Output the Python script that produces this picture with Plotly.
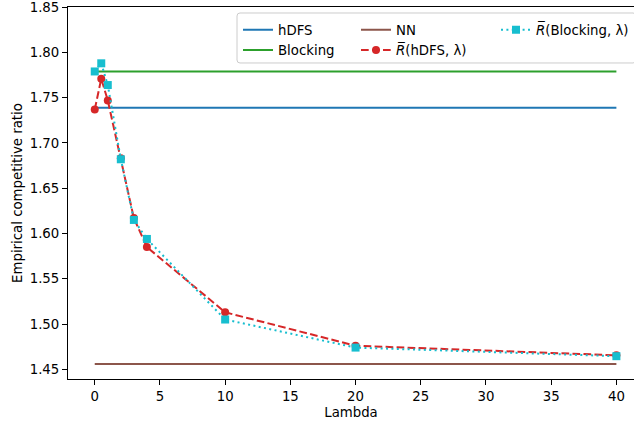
import plotly.graph_objects as go
import re

lambdas = [0, 0.5, 1, 2, 3, 4, 10, 20, 40]
r_hdfs = [1.737, 1.771, 1.747, 1.683, 1.617, 1.585, 1.513, 1.476, 1.4655]
r_blocking = [1.779, 1.788, 1.764, 1.682, 1.615, 1.594, 1.505, 1.474, 1.4645]
hdfs_value = 1.739
blocking_value = 1.779
nn_value = 1.456
x_ticks = [0, 5, 10, 15, 20, 25, 30, 35, 40]
y_ticks = [1.45, 1.50, 1.55, 1.60, 1.65, 1.70, 1.75, 1.80, 1.85]

FONT = "DejaVu Sans"
FS = 13.3
LW = 2.0

x_ends = [lambdas[0], lambdas[-1]]

fig = go.Figure()
fig.add_trace(go.Scatter(x=x_ends, y=[hdfs_value] * 2, mode="lines", name="hDFS",
                         line=dict(color="#1f77b4", width=LW), legend="legend"))
fig.add_trace(go.Scatter(x=x_ends, y=[blocking_value] * 2, mode="lines", name="Blocking",
                         line=dict(color="#2ca02c", width=LW), legend="legend"))
fig.add_trace(go.Scatter(x=x_ends, y=[nn_value] * 2, mode="lines", name="NN",
                         line=dict(color="#8c564b", width=LW), legend="legend2"))
fig.add_trace(go.Scatter(x=lambdas, y=r_hdfs, mode="lines+markers",
                         name="<i>R̅</i>(hDFS, λ)",
                         line=dict(color="#d62728", width=LW, dash="7.7px,3.3px"),
                         marker=dict(symbol="circle", size=8, color="#d62728"),
                         legend="legend2"))
fig.add_trace(go.Scatter(x=lambdas, y=r_blocking, mode="lines+markers",
                         name="<i>R̅</i>(Blocking, λ)",
                         line=dict(color="#17becf", width=LW, dash="2px,3.4px"),
                         marker=dict(symbol="square", size=8, color="#17becf"),
                         legend="legend3"))

L, R, T, B = 68, 0, 6.5, 44.3
W, H = 634, 423
pw = W - L - R
ph = H - T - B

def px(xp):
    return (xp - L) / pw

def py(yp):
    return (H - B - yp) / ph

leg_common = dict(bgcolor="rgba(0,0,0,0)", borderwidth=0, orientation="v",
                  font=dict(family=FONT, size=FS, color="#000"),
                  xanchor="left", yanchor="top", tracegroupgap=0,
                  itemwidth=30)
fig.update_layout(
    legend=dict(x=px(238), y=py(14), **leg_common),
    legend2=dict(x=px(356), y=py(14), **leg_common),
    legend3=dict(x=px(496), y=py(14), **leg_common),
)

# legend frame (pixel coords converted to paper coords)
x0, x1, y0, y1, r = 237, 636, 12.5, 62.5, 3
path = (f"M {x0+r},{y0} L {x1-r},{y0} Q {x1},{y0} {x1},{y0+r} L {x1},{y1-r} "
        f"Q {x1},{y1} {x1-r},{y1} L {x0+r},{y1} Q {x0},{y1} {x0},{y1-r} "
        f"L {x0},{y0+r} Q {x0},{y0} {x0+r},{y0} Z")
def conv(m):
    a, b = float(m.group(1)), float(m.group(2))
    return f"{px(a):.5f},{py(b):.5f}"
fig.add_shape(type="path", xref="paper", yref="paper", layer="above",
              path=re.sub(r"([\d.]+),([\d.]+)", conv, path),
              line=dict(color="#cccccc", width=1), fillcolor="rgba(255,255,255,0.8)")

axis_common = dict(showline=True, linecolor="#000", linewidth=1.1, ticks="outside",
                   ticklen=5, tickwidth=1.1, tickcolor="#000", showgrid=False,
                   zeroline=False, automargin=False, ticklabeloverflow="allow",
                   tickfont=dict(family=FONT, size=FS, color="#000"))
fig.update_xaxes(range=[-2.05, 41.35], tickvals=x_ticks, mirror=True,
                 title=dict(text="Lambda", font=dict(family=FONT, size=FS, color="#000"),
                            standoff=4),
                 **axis_common)
fig.update_yaxes(range=[1.4393, 1.8502], tickvals=y_ticks, tickformat=".2f", mirror=False,
                 title=dict(text="Empirical competitive ratio",
                            font=dict(family=FONT, size=FS, color="#000"), standoff=4),
                 **axis_common)

fig.update_layout(width=W, height=H,
                  margin=dict(l=L, r=R, t=T, b=B, pad=0, autoexpand=False),
                  plot_bgcolor="white", paper_bgcolor="white",
                  font=dict(family=FONT, size=FS, color="#000"))

fig.write_html("out.html", config={"displayModeBar": False},
               post_script="document.body.style.margin='0px';document.body.style.overflow='hidden';")
